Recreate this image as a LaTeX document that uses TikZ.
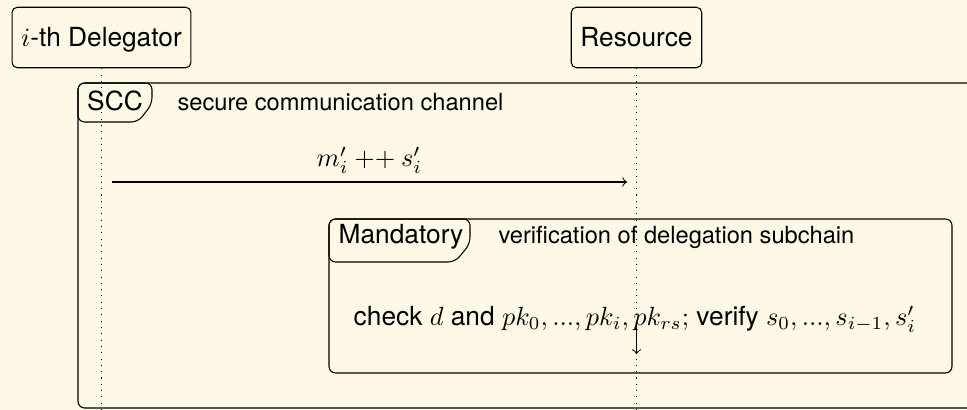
\documentclass[tikz,border=0pt]{standalone}
\usepackage[no-math]{fontspec}
\setmainfont{TeX Gyre Heros}
\usepackage{amsmath}
\usepackage{tikz}
\usetikzlibrary{calc}
\definecolor{bgcream}{RGB}{254,249,231}

\begin{document}
\begin{tikzpicture}[x=0.01336cm, y=-0.01336cm,
  actor/.style={rectangle, rounded corners=2pt, draw=black, inner xsep=3.5pt,
    minimum height=23pt, text height=7.5pt, text depth=1pt},
  lifeline/.style={dotted},
  blockframe/.style={draw=black, rounded corners=2.5pt},
  blockdesc/.style={anchor=base west, font=\small, inner sep=0pt}]
  % fond
  \fill[bgcream] (0,0) rectangle (967,410);
  \clip (0,0) rectangle (967,410);

  % participants
  \node[actor] (deleg) at (101.5,37.5) {$i$-th Delegator};
  \node[actor] (res) at (636.5,37.5) {Resource};
  \coordinate (delegend) at (101.5,412);
  \coordinate (resend) at (636.5,412);

  % bloc SCC
  \draw[blockframe] (78,83) rectangle (1000,408);
  \draw[blockframe] (78,83) -- (152,83) -- (152,104) -- (138,122) -- (78,122) -- cycle;
  \node[anchor=base] (scc) at (115,110.5) {SCC};
  \node[blockdesc] (sccdesc) at (177,110.5) {secure communication channel};

  % message
  \coordinate (msgfrom) at (112,182);
  \coordinate (msgto) at (627,182);
  \draw[->] (msgfrom) -- (msgto);
  \node[anchor=base] (msglabel) at ($(msgfrom)!0.5!(msgto)+(0,-15)$) {$m'_i \mathbin{++} s'_i$};

  % bloc Mandatory
  \draw[blockframe] (329,219) rectangle (952,373);
  \draw[blockframe] (329,219) -- (470,219) -- (470,244) -- (455,262) -- (329,262) -- cycle;
  \node[anchor=base] (mand) at (401,244) {Mandatory};
  \node[blockdesc] (manddesc) at (498,244) {verification of delegation subchain};
  \node[anchor=base] (check) at (635,326)
    {check $d$ and $pk_0, ..., pk_i, pk_{rs};$ verify $s_0, ..., s_{i-1}, s'_i$};
  \coordinate (callfrom) at (636.5,324);
  \coordinate (callto) at (636.5,354);
  \draw[->] (callfrom) -- (callto);

  % lignes de vie
  \draw[lifeline] (deleg.south) -- (delegend);
  \draw[lifeline] (res.south) -- (resend);
\end{tikzpicture}
\end{document}
